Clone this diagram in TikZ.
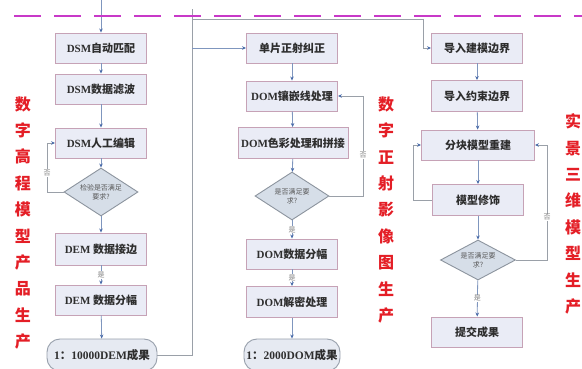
\documentclass[tikz,border=0pt]{standalone}
\usepackage{fontspec}
\setmainfont{Liberation Serif}
\newfontfamily\cjk{Noto Sans CJK SC}
\usetikzlibrary{shapes.geometric,arrows.meta}
\definecolor{boxfill}{HTML}{EAECF6}
\definecolor{boxborder}{HTML}{C6A2B6}
\definecolor{resfill}{HTML}{E6EAF2}
\definecolor{resborder}{HTML}{98A0AC}
\definecolor{diafill}{HTML}{D6DEE8}
\definecolor{diaborder}{HTML}{8C949E}
\definecolor{linec}{HTML}{7F96BE}
\definecolor{loopc}{HTML}{9AA0A8}
\definecolor{tipc}{HTML}{4A6CAA}
\definecolor{textc}{HTML}{2E2E2E}
\definecolor{redc}{HTML}{E41E26}
\definecolor{dashc}{HTML}{C839C8}
\newcommand{\zh}[1]{{\cjk #1}}
\tikzset{
  box/.style={draw=boxborder, fill=boxfill, line width=0.9pt, minimum width=91pt,
    minimum height=30pt, inner sep=1pt, text=textc, font=\bfseries\fontsize{11}{13}\selectfont},
  res/.style={draw=resborder, fill=resfill, line width=0.9pt, rounded corners=13pt,
    minimum height=32pt, inner sep=1pt, text=textc, font=\bfseries\fontsize{11.5}{13}\selectfont},
  dia/.style={diamond, draw=diaborder, fill=diafill, line width=0.9pt, inner sep=0pt,
    align=center, text=textc!80, font=\cjk\fontsize{7}{9}\selectfont},
  arr/.style={draw=linec, line width=0.8pt, -{Stealth[length=4pt,width=3.5pt,color=tipc]}},
  loopl/.style={draw=loopc, line width=0.8pt, -{Stealth[length=4pt,width=3.5pt,color=tipc]}},
  plain/.style={draw=loopc, line width=0.8pt},
  lbl/.style={fill=white, inner sep=0.6pt, text=gray, font=\cjk\fontsize{7}{7}\selectfont},
  vert/.style={text=redc, align=center, font=\cjk\bfseries\fontsize{16}{26.4}\selectfont}
}
\begin{document}
\begin{tikzpicture}[x=1pt,y=-1pt]
\useasboundingbox (0,0) rectangle (582,369);
\fill[white] (0,0) rectangle (582,369);
% dashed separator
\coordinate (dl) at (14,16);
\coordinate (dr) at (582,16);
% column 1
\node[box] (a1) at (101,48) {DSM\zh{自动匹配}};
\node[box] (a2) at (101,89) {DSM\zh{数据滤波}};
\node[box] (a3) at (101,143) {DSM\zh{人工编辑}};
\node[dia, minimum width=74pt, minimum height=48pt, aspect=1.5] (d1) at (101,192) {检验是否满足\\要求?};
\node[box, minimum height=32pt] (a4) at (101,249) {DEM \zh{数据接边}};
\node[box] (a5) at (101,300) {DEM \zh{数据分幅}};
\node[res, minimum width=110pt] (r1) at (102,355) {1\zh{：}10000DEM\zh{成果}};
% column 2
\node[box] (b1) at (292,48) {\zh{单片正射纠正}};
\node[box] (b2) at (292,96) {DOM\zh{镶嵌线处理}};
\node[box, minimum width=110pt, minimum height=31pt] (b3) at (293,143) {DOM\zh{色彩处理和拼接}};
\node[dia, minimum width=74pt, minimum height=48pt, aspect=1.5] (d2) at (292,196) {是否满足要\\求?};
\node[box] (b4) at (292,254) {DOM\zh{数据分幅}};
\node[box, minimum height=31pt] (b5) at (292,302) {DOM\zh{解密处理}};
\node[res, minimum width=96pt] (r2) at (292,355) {1\zh{：}2000DOM\zh{成果}};
% column 3
\node[box] (c1) at (477,48) {\zh{导入建模边界}};
\node[box, minimum height=31pt] (c2) at (477,96) {\zh{导入约束边界}};
\node[box, minimum width=113pt] (c3) at (478,145) {\zh{分块模型重建}};
\node[box, minimum height=31pt] (c4) at (478,200) {\zh{模型修饰}};
\node[dia, minimum width=75pt, minimum height=40pt, aspect=1.8] (d3) at (478,260) {是否满足要\\求?};
\node[box] (c5) at (477,332) {\zh{提交成果}};
% red vertical titles
\node[vert] (t1) at (23,223) {数\\字\\高\\程\\模\\型\\产\\品\\生\\产};
\node[vert] (t2) at (386,210) {数\\字\\正\\射\\影\\像\\图\\生\\产};
\node[vert] (t3) at (573,214) {实\\景\\三\\维\\模\\型\\生\\产};
% helper coordinates
\coordinate (top1) at (101,0);
\coordinate (vtop) at (192,9);
\coordinate (jr) at (423,19);
\coordinate (lx1) at (47,192);
\coordinate (lx2) at (363,196);
\coordinate (lx3) at (413,200);
\coordinate (lx4) at (547,260);
% column 1 flow
\draw[arr] (top1) -- (a1);
\draw[arr] (a1) -- (a2);
\draw[arr] (a2) -- (a3);
\draw[arr] (a3) -- (d1);
\draw[arr] (d1) -- (a4);
\draw[arr] (a4) -- node[lbl]{是} (a5);
\draw[arr] (a5) -- (r1);
\draw[loopl] (d1.west) -- (lx1) -- node[lbl, pos=0.39]{否} (lx1 |- a3) -- (a3.west);
% connector from column 1 result to columns 2 and 3
\draw[plain] (r1.east) -- (r1.east -| vtop) -- (vtop);
\draw[arr] (vtop |- b1) -- (b1.west);
\draw[plain] (vtop |- jr) -- (jr);
\draw[loopl] (jr) -- (jr |- c1) -- (c1.west);
% column 2 flow
\draw[arr] (b1) -- (b2);
\draw[arr] (b2) -- (b3);
\draw[arr] (b3) -- (d2);
\draw[arr] (d2) -- node[lbl]{是} (b4);
\draw[arr] (b4) -- node[lbl]{是} (b5);
\draw[arr] (b5) -- (r2);
\draw[loopl] (d2.east) -- (lx2) -- node[lbl, pos=0.41]{否} (lx2 |- b2) -- (b2.east);
% column 3 flow
\draw[arr] (c1) -- (c2);
\draw[arr] (c2) -- (c3);
\draw[arr] (c3) -- (c4);
\draw[arr] (c4) -- (d3);
\draw[arr] (d3) -- node[lbl]{是} (c5);
\draw[loopl] (c4.west) -- (lx3) -- (lx3 |- c3) -- (c3.west);
\draw[loopl] (d3.east) -- (lx4) -- node[lbl, pos=0.37]{否} (lx4 |- c3) -- (c3.east);
% dashed magenta line on top
\draw[dashc, line width=2.6pt, dash pattern=on 27pt off 13pt] (dl) -- (dr);
\end{tikzpicture}
\end{document}
